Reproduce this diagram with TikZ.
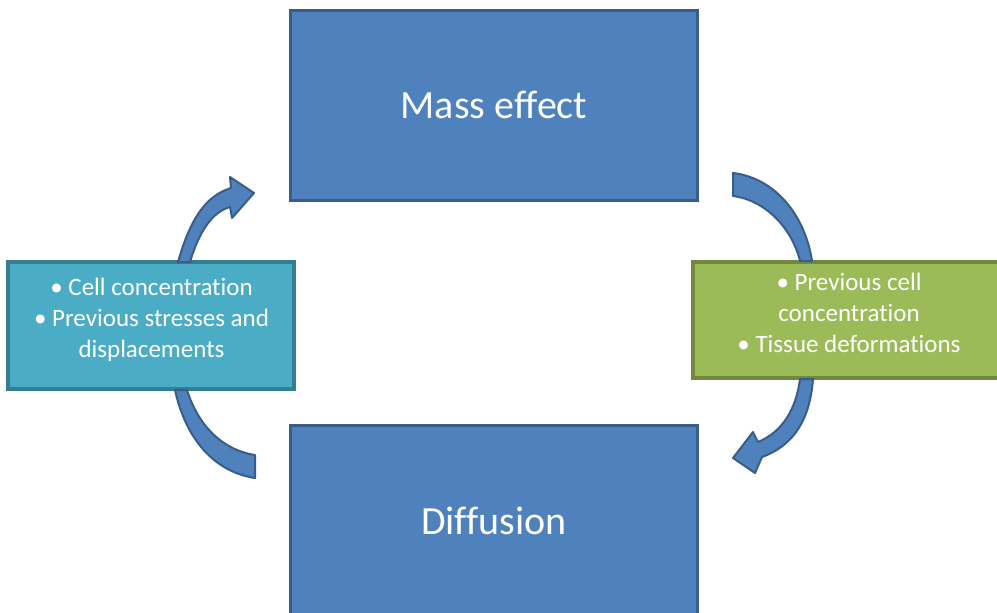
\documentclass[tikz,border=0pt]{standalone}
\usepackage{fontspec}
\setmainfont{Carlito}[Ligatures=NoCommon]
\definecolor{bluefill}{HTML}{4F81BD}
\definecolor{blueline}{HTML}{385D8A}
\definecolor{tealfill}{HTML}{4BACC6}
\definecolor{tealline}{HTML}{357D91}
\definecolor{greenfill}{HTML}{9BBB59}
\definecolor{greenline}{HTML}{71893F}
\begin{document}
\begin{tikzpicture}[x=1pt,y=-1pt,
  bigbox/.style={draw=blueline,fill=bluefill,line width=3pt,inner sep=0pt},
  sidebox/.style={line width=3.2pt,inner sep=0pt},
  bigtext/.style={text=white,font=\fontsize{40}{48}\selectfont},
  smalltext/.style={text=white,font=\fontsize{25}{31}\selectfont,align=center,inner sep=0pt},
  blockarrow/.style={fill=bluefill,draw=blueline,line width=2pt,line join=round}]
\useasboundingbox (0,0) rectangle (997,613);
\clip (0,0) rectangle (997,613);
% boxes
\node[bigbox,minimum width=407pt,minimum height=190pt] (mass) at (493.5,105) {};
\node[bigtext] (masst) at (494,105) {Mass effect};
\node[bigbox,minimum width=407pt,minimum height=192pt] (diff) at (493.5,521) {};
\node[bigtext] (difft) at (494,521) {Diffusion};
\node[sidebox,draw=tealline,fill=tealfill,minimum width=286pt,minimum height=127pt] (left) at (151,325.5) {};
\node[smalltext] (leftt) at (151.5,320) {\textbullet\ Cell concentration\\\textbullet\ Previous stresses and\\displacements};
\node[sidebox,draw=greenline,fill=greenfill,minimum width=318pt,minimum height=116pt] (right) at (852,320) {};
\node[smalltext] (rightt) at (849,313) {\textbullet\ Previous cell\\concentration\\\textbullet\ Tissue deformations};
% curved block arrows
\draw[blockarrow] (178,262) .. controls (190,220) and (205,196) .. (231,188) -- (230,177) -- (254,193) -- (232,218) -- (230,207) .. controls (212,212) and (199,232) .. (190,262) -- cycle;
\draw[blockarrow] (175,390) .. controls (186,440) and (215,472) .. (255,478) -- (255,455) .. controls (222,450) and (198,425) .. (187,390) -- cycle;
\draw[blockarrow] (733,173) -- (733,196) .. controls (765,200) and (792,228) .. (800,261) -- (812,261) .. controls (805,215) and (775,178) .. (733,173) -- cycle;
\draw[blockarrow] (800,379) .. controls (796,410) and (782,432) .. (758,442) -- (753,432) -- (733,458) -- (755,473) -- (762,457) .. controls (795,445) and (810,418) .. (813,379) -- cycle;
\end{tikzpicture}
\end{document}
